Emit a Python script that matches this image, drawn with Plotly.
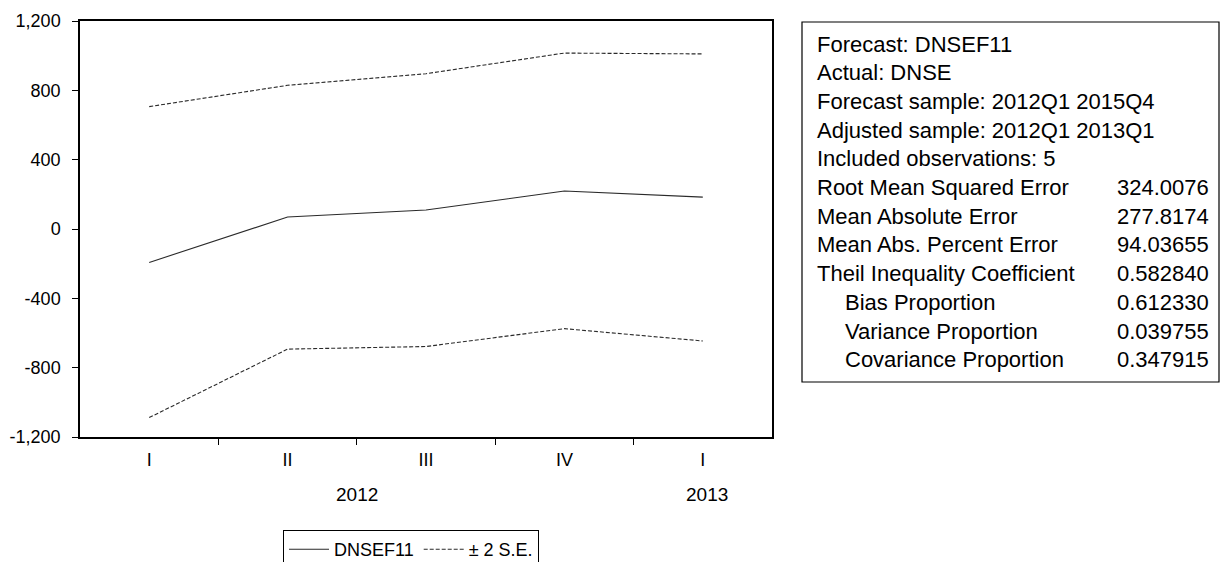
import plotly.graph_objects as go

# ---- data ----
quarters = ["I", "II", "III", "IV", "I"]
years = ["2012", "2012", "2012", "2012", "2013"]
forecast = [-193, 69, 110, 219, 184]
upper_2se = [706, 829, 896, 1015, 1010]
lower_2se = [-1088, -693, -678, -575, -646]
y_ticks = [-1200, -800, -400, 0, 400, 800, 1200]

stat_labels = [
    "Forecast: DNSEF11",
    "Actual: DNSE",
    "Forecast sample: 2012Q1 2015Q4",
    "Adjusted sample: 2012Q1 2013Q1",
    "Included observations: 5",
    "Root Mean Squared Error",
    "Mean Absolute Error",
    "Mean Abs. Percent Error",
    "Theil Inequality Coefficient",
    "Bias Proportion",
    "Variance Proportion",
    "Covariance Proportion",
]
stat_values = ["", "", "", "", "", "324.0076", "277.8174", "94.03655",
               "0.582840", "0.612330", "0.039755", "0.347915"]

# ---- layout geometry (pixels) ----
W, H = 1224, 562
L, R, T, B = 80, 772, 21, 437
FONT = "Liberation Sans, Arial, sans-serif"


def px_x(p):
    return (p - L) / (R - L)


def px_y(p):
    return (B - p) / (B - T)


x = list(range(len(quarters)))
line_col = "#2a2a2a"

fig = go.Figure()
fig.add_trace(go.Scatter(x=x, y=forecast, mode="lines", name="DNSEF11",
                         line=dict(color=line_col, width=1.1)))
fig.add_trace(go.Scatter(x=x, y=upper_2se, mode="lines", name="± 2 S.E.",
                         line=dict(color=line_col, width=1.1, dash="4px,2px")))
fig.add_trace(go.Scatter(x=x, y=lower_2se, mode="lines", name="± 2 S.E.",
                         showlegend=False,
                         line=dict(color=line_col, width=1.1, dash="4px,2px")))

fig.update_layout(
    width=W, height=H,
    margin=dict(l=L, r=W - R, t=T, b=H - B, pad=0, autoexpand=False),
    paper_bgcolor="white", plot_bgcolor="white",
    font=dict(family=FONT, color="black", size=18),
    showlegend=True,
    legend=dict(orientation="h", x=px_x(283), y=px_y(530),
                xanchor="left", yanchor="top",
                bordercolor="black", borderwidth=1,
                font=dict(size=18, family=FONT), itemwidth=40,
                tracegroupgap=0),
)

fig.update_xaxes(
    automargin=False,
    range=[-0.5, len(quarters) - 0.5],
    tickmode="array", tickvals=x, ticktext=quarters,
    ticks="outside", ticklen=6, tickcolor="rgba(0,0,0,0)",
    tickfont=dict(size=18, family=FONT),
    showgrid=False, zeroline=False,
    showline=True, linecolor="black", linewidth=1.5, mirror=True,
    minor=dict(tickmode="array",
               tickvals=[i + 0.5 for i in x[:-1]],
               ticks="outside", ticklen=6, tickcolor="black", tickwidth=1,
               showgrid=False),
)
fig.update_yaxes(
    automargin=False,
    range=[y_ticks[0], y_ticks[-1]],
    tickmode="array", tickvals=y_ticks,
    ticktext=[f"{v:,}" for v in y_ticks],
    ticks="outside", ticklen=6, tickcolor="black", tickwidth=1,
    ticklabelstandoff=8,
    tickfont=dict(size=18, family=FONT),
    showgrid=False, zeroline=False,
    showline=True, linecolor="black", linewidth=1.5, mirror=True,
)

# year labels centred under their quarters
year_pos = {}
for xi, yr in zip(x, years):
    year_pos.setdefault(yr, []).append(xi)
for yr, pos in year_pos.items():
    fig.add_annotation(x=sum(pos) / len(pos) + (0.03 if len(pos) == 1 else 0),
                       xref="x", y=0, yref="paper", yshift=-(494 - B),
                       text=yr, showarrow=False, yanchor="middle",
                       font=dict(size=19, family=FONT, color="black"))

# statistics box
fig.add_shape(type="rect", xref="paper", yref="paper",
              x0=px_x(802), x1=px_x(1219), y0=px_y(382), y1=px_y(22),
              line=dict(color="black", width=1.2), fillcolor="white",
              layer="below")
line0, step = 44, 28.7
for i, (lab, val) in enumerate(zip(stat_labels, stat_values)):
    yy = px_y(line0 + i * step)
    indent = 28 if lab.endswith("Proportion") else 0
    fig.add_annotation(x=px_x(815 + indent), y=yy, xref="paper", yref="paper",
                       text=lab, showarrow=False, xanchor="left",
                       yanchor="middle",
                       font=dict(size=22, family=FONT, color="black"))
    if val:
        fig.add_annotation(x=px_x(1211), y=yy, xref="paper", yref="paper",
                           text=val, showarrow=False, xanchor="right",
                           yanchor="middle",
                           font=dict(size=22, family=FONT, color="black"))

fig.write_html(
    "out.html",
    config={"displayModeBar": False},
    post_script="document.body.style.margin='0';"
                "document.body.style.overflow='hidden';",
)
